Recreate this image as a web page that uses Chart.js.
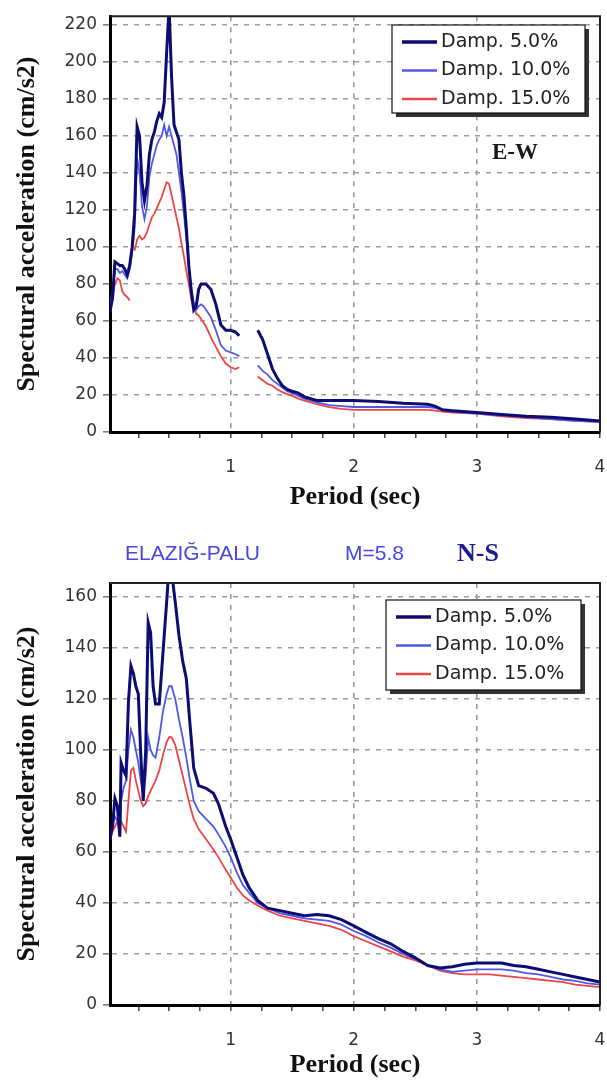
<!DOCTYPE html>
<html>
<head>
<meta charset="utf-8">
<script src="https://cdn.jsdelivr.net/npm/chart.js@4.4.1/dist/chart.umd.min.js"></script>
<style>
body { margin: 0; background: #fff; width: 607px; height: 1081px; position: relative; overflow: hidden; }
#ewBox { position: absolute; left: 0; top: 0; width: 607px; height: 520px; }
#nsBox { position: absolute; left: 0; top: 520px; width: 607px; height: 561px; }
</style>
</head>
<body>
<div id="ewBox"><canvas id="ewChart"></canvas></div>
<div id="nsBox"><canvas id="nsChart"></canvas></div>
<script>
// labels
const seriesNames = ['Damp. 5.0%', 'Damp. 10.0%', 'Damp. 15.0%'];
const xTickValues = [0.25, 0.5, 0.75, 1, 1.25, 1.5, 1.75, 2, 2.25, 2.5, 2.75, 3, 3.25, 3.5, 3.75, 4];
const ewYTicks = [0, 20, 40, 60, 80, 100, 120, 140, 160, 180, 200, 220];
const nsYTicks = [0, 20, 40, 60, 80, 100, 120, 140, 160];

// E-W component (top chart)
const ewPeriod = [0.02, 0.04, 0.06, 0.08, 0.10, 0.12, 0.14, 0.16, 0.18, 0.20, 0.22, 0.24, 0.26, 0.28, 0.30,
  0.32, 0.34, 0.36, 0.38, 0.40, 0.42, 0.44, 0.46, 0.48, 0.50, 0.52, 0.54, 0.56, 0.58, 0.60, 0.62, 0.64,
  0.66, 0.68, 0.70, 0.72, 0.74, 0.76, 0.78, 0.80, 0.84, 0.88, 0.92, 0.96, 1.00, 1.04, 1.07, 1.15, 1.22,
  1.26, 1.30, 1.34, 1.38, 1.42, 1.46, 1.50, 1.55, 1.60, 1.70, 1.80, 1.90, 2.00, 2.20, 2.40, 2.60, 2.66,
  2.72, 2.80, 3.00, 3.20, 3.40, 3.60, 3.80, 4.00];
const ewDamp5 = [65, 72, 92, 91, 90, 90, 88, 85, 90, 100, 118, 165, 160, 135, 125,
  133, 150, 158, 162, 168, 172, 170, 178, 205, 230, 192, 166, 162, 158, 140, 128, 110,
  90, 76, 66, 68, 77, 80, 80, 80, 77, 69, 58, 55, 55, 54, 52, null, 55,
  50, 42, 34, 29, 25, 23, 22, 21, 19, 17, 17, 17, 17, 16.5, 15.5, 15, 14,
  12, 11.5, 10.5, 9.5, 8.5, 8, 7, 6];
const ewDamp10 = [68, 75, 88, 88, 86, 87, 85, 83, 88, 97, 110, 148, 140, 122, 115,
  122, 138, 145, 150, 155, 158, 160, 166, 160, 165, 160, 155, 150, 140, 130, 118, 105,
  90, 78, 70, 66, 68, 69, 68, 66, 62, 55, 47, 44, 43, 42, 41, null, 36,
  33, 31, 28, 26, 24, 22, 21, 19.5, 18, 16, 14.5, 14, 13.5, 13.5, 13.5, 13.5, 13,
  12, 11, 10, 9, 8, 7, 6, 5.5];
const ewDamp15 = [66, 72, 80, 83, 82, 76, 74, 73, 71, null, 98, 104, 106, 104, 105,
  108, 112, 116, 118, 121, 124, 127, 131, 135, 134, 128, 122, 116, 110, 102, 95, 87,
  80, 72, 67, 64, 63, 61, 59, 57, 51, 46, 41, 37, 35, 34, 35, null, 30,
  28, 26, 25, 23, 21.5, 20.5, 19.5, 18, 17, 15, 13.5, 12.5, 12, 12, 12, 12, 11.5,
  11, 10.5, 10, 8.5, 7.5, 7, 6, 5.5];

// N-S component (bottom chart)
const nsPeriod = [0.02, 0.04, 0.06, 0.08, 0.10, 0.11, 0.13, 0.15, 0.17, 0.19, 0.21, 0.23, 0.25, 0.27, 0.29,
  0.31, 0.33, 0.35, 0.37, 0.39, 0.42, 0.45, 0.48, 0.50, 0.52, 0.55, 0.58, 0.61, 0.64, 0.67, 0.70,
  0.74, 0.80, 0.86, 0.90, 0.96, 1.00, 1.05, 1.10, 1.15, 1.22, 1.30, 1.40, 1.50, 1.60, 1.70, 1.80,
  1.90, 2.00, 2.10, 2.20, 2.30, 2.40, 2.50, 2.60, 2.70, 2.80, 2.90, 3.00, 3.10, 3.20, 3.30, 3.40,
  3.50, 3.60, 3.70, 3.80, 3.90, 4.00];
const nsDamp5 = [65, 70, 81, 78, 66, 95, 92, 90, 119, 133, 130, 125, 122, 98, 80,
  100, 150, 146, 125, 118, 118, 138, 158, 172, 170, 158, 145, 135, 128, 110, 93,
  86, 85, 83, 79, 70, 65, 58, 51, 46, 41, 38, 37, 36, 35, 35.5, 35,
  33.5, 31, 28.5, 26, 24, 21, 18.5, 15.5, 14.5, 15, 16, 16.5, 16.5, 16.5, 15.5, 15,
  14, 13, 12, 11, 10, 9];
const nsDamp10 = [67, 70, 74, 72, 68, 80, 85, 88, 100, 108, 105, 100, 95, 88, 82,
  90, 105, 100, 98, 97, 105, 115, 122, 125, 125, 120, 112, 105, 97, 88, 80,
  76, 73, 70, 67, 62, 58, 52, 47, 44, 40, 38, 36, 35, 34, 33.5, 33,
  31.5, 29, 27, 24.5, 22.5, 20, 18, 15.5, 14, 13, 13.5, 14, 14, 14, 13.5, 12.5,
  12, 11, 10, 9.5, 8.5, 8];
const nsDamp15 = [65, 68, 70, 72, 70, 72, 70, 68, 80, 92, 93, 88, 84, 80, 78,
  79, 82, 84, 86, 88, 92, 98, 103, 105, 105, 102, 96, 90, 84, 78, 73,
  69, 65, 61, 58, 53, 50, 46, 43, 41, 39, 37, 35, 34, 33, 32, 31,
  29.5, 27, 25, 23, 21, 19, 17.5, 15.5, 13.5, 12.5, 12, 12, 12, 11.5, 11, 10.5,
  10, 9.5, 9, 8, 7.5, 7];

const lineColors = ['#0c0c72', '#5058e4', '#ee4646'];
const lineWidths = [3, 1.8, 1.8];

function toPoints(period, values) {
    return period.map((p, i) => ({x: p, y: values[i]}));
}

function makeDatasets(period, series) {
    return series.map((vals, i) => ({
        label: seriesNames[i],
        data: toPoints(period, vals),
        borderColor: lineColors[i],
        borderWidth: lineWidths[i],
        pointRadius: 0,
        tension: 0,
        spanGaps: false,
        clip: 0
    }));
}

// box legend drawn inside the plot, plus the extra texts
const decorPlugin = {
    id: 'decor',
    afterDraw(chart, args, opts) {
        const ctx = chart.ctx;
        const a = chart.chartArea;
        ctx.save();
        // frame top / right
        ctx.strokeStyle = '#222';
        ctx.lineWidth = 2;
        ctx.beginPath();
        ctx.moveTo(a.left, a.top);
        ctx.lineTo(a.right, a.top);
        ctx.lineTo(a.right, a.bottom);
        ctx.stroke();

        // legend
        const b = opts.box;
        ctx.fillStyle = '#333';
        ctx.fillRect(b.x + 4, b.y + 4, b.w, b.h);
        ctx.fillStyle = '#fff';
        ctx.fillRect(b.x, b.y, b.w, b.h);
        ctx.lineWidth = 1.2;
        ctx.strokeStyle = '#111';
        ctx.strokeRect(b.x, b.y, b.w, b.h);
        ctx.font = '19px "DejaVu Sans"';
        ctx.textBaseline = 'middle';
        chart.data.datasets.forEach((ds, i) => {
            const ry = b.y + 17 + i * 28.5;
            ctx.strokeStyle = ds.borderColor;
            ctx.lineWidth = ds.borderWidth + 0.5;
            ctx.beginPath();
            ctx.moveTo(b.x + 10, ry);
            ctx.lineTo(b.x + 45, ry);
            ctx.stroke();
            ctx.fillStyle = '#222';
            ctx.fillText(ds.label, b.x + 49, ry);
        });

        // free texts
        (opts.texts || []).forEach(t => {
            ctx.font = t.font;
            ctx.fillStyle = t.color;
            ctx.textBaseline = 'middle';
            ctx.fillText(t.text, t.x, t.y);
        });
        ctx.restore();
    }
};

function makeOptions(yMax, yTicks, axisHeight, padTop, xTitlePad, box, texts) {
    return {
        responsive: true,
        maintainAspectRatio: false,
        animation: false,
        devicePixelRatio: 1,
        layout: { padding: { top: padTop, right: 7, left: 0, bottom: 0 } },
        plugins: {
            legend: { display: false },
            tooltip: { enabled: false },
            decor: { box: box, texts: texts }
        },
        scales: {
            x: {
                type: 'linear',
                min: 0.02,
                max: 4,
                afterBuildTicks: (s) => { s.ticks = xTickValues.map(v => ({value: v})); },
                afterFit: (s) => { s.height = axisHeight; s.paddingLeft = 0; s.paddingRight = 0; },
                ticks: {
                    autoSkip: false,
                    maxRotation: 0,
                    padding: 19,
                    color: '#333',
                    font: { family: 'DejaVu Sans', size: 17 },
                    callback: (v) => Number.isInteger(v) ? String(v) : ''
                },
                grid: {
                    color: (c) => (c.tick && Number.isInteger(c.tick.value)) ? '#9c9c9c' : 'rgba(0,0,0,0)',
                    lineWidth: 1.6,
                    tickColor: '#444',
                    tickLength: 6,
                    tickWidth: 1.5
                },
                border: { color: '#000', width: 3, dash: [5, 6] },
                title: {
                    display: true,
                    text: 'Period (sec)',
                    color: '#111',
                    font: { family: 'Liberation Serif', size: 26, weight: 'bold' },
                    padding: { top: 0, bottom: xTitlePad }
                }
            },
            y: {
                min: 0,
                max: yMax,
                afterBuildTicks: (s) => { s.ticks = yTicks.map(v => ({value: v})); },
                afterFit: (s) => { s.width = 110; },
                ticks: {
                    padding: 6,
                    color: '#333',
                    font: { family: 'DejaVu Sans', size: 17 }
                },
                grid: {
                    color: '#9c9c9c',
                    lineWidth: 1.6,
                    tickColor: '#777',
                    tickLength: 7,
                    tickWidth: 1.5
                },
                border: { color: '#000', width: 3, dash: [5, 6] },
                title: {
                    display: true,
                    text: 'Spectural acceleration (cm/s2)',
                    color: '#111',
                    font: { family: 'Liberation Serif', size: 26, weight: 'bold' },
                    padding: { top: 12, bottom: 4 }
                }
            }
        }
    };
}

new Chart(document.getElementById('ewChart'), {
    type: 'line',
    data: { datasets: makeDatasets(ewPeriod, [ewDamp5, ewDamp10, ewDamp15]) },
    options: makeOptions(224.7, ewYTicks, 88, 7, 7,
        { x: 392, y: 25, w: 193, h: 88 },
        [{ text: 'E-W', x: 492, y: 153, font: 'bold 23px "Liberation Serif"', color: '#1a1a1a' }]),
    plugins: [decorPlugin]
});

new Chart(document.getElementById('nsChart'), {
    type: 'line',
    data: { datasets: makeDatasets(nsPeriod, [nsDamp5, nsDamp10, nsDamp15]) },
    options: makeOptions(165.5, nsYTicks, 76, 63, 0,
        { x: 386, y: 80, w: 195, h: 90 },
        [
            { text: 'ELAZIĞ-PALU', x: 125, y: 34, font: '21px "Liberation Sans"', color: '#4848e0' },
            { text: 'M=5.8', x: 345, y: 34, font: '21px "Liberation Sans"', color: '#4848e0' },
            { text: 'N-S', x: 457, y: 34, font: 'bold 26px "Liberation Serif"', color: '#1c1c90' }
        ]),
    plugins: [decorPlugin]
});
</script>
</body>
</html>
